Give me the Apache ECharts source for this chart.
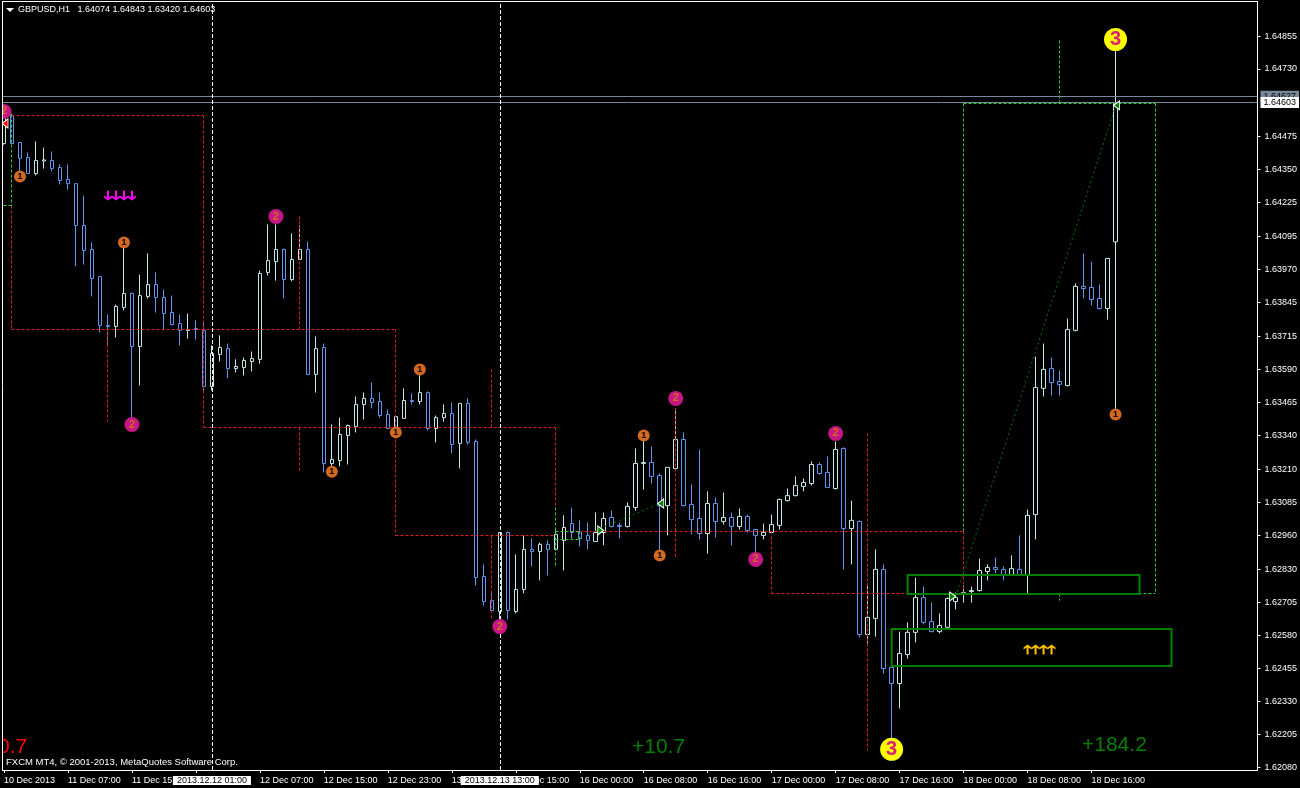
<!DOCTYPE html>
<html>
<head>
<meta charset="utf-8">
<title>GBPUSD,H1</title>
<script src="https://cdn.jsdelivr.net/npm/echarts@6/dist/echarts.min.js"></script>
<style>
html, body { margin: 0; padding: 0; background: #000; }
#main { width: 1300px; height: 788px; }
</style>
</head>
<body>
<div id="main"></div>
<script>
// H1 bars, left to right
const opens = [
  1.64447,1.64554,1.64451,1.64394,1.64333,1.64381,1.64383,1.64356,1.64311,1.64295,
  1.64136,1.64045,1.63943,1.63757,1.63753,1.63825,1.63878,1.63677,1.63867,1.63912,
  1.63863,1.63806,1.63764,1.63738,1.63745,1.63738,1.63525,1.63647,1.63669,1.63593,
  1.63597,1.63620,1.63628,1.63958,1.63999,1.64045,1.63931,1.64007,1.64045,1.63571,
  1.63673,1.63233,1.63244,1.63339,1.63373,1.63457,1.63480,1.63468,1.63419,1.63366,
  1.63404,1.63472,1.63468,1.63502,1.63366,1.63407,1.63423,1.63309,1.63461,1.63316,
  1.62804,1.62713,1.62671,1.62971,1.62671,1.62755,1.62907,1.62899,1.62926,1.62907,
  1.62941,1.63005,1.62975,1.62960,1.62937,1.62971,1.63028,1.62998,1.62994,1.63066,
  1.63233,1.63237,1.63187,1.63073,1.63214,1.63324,1.63077,1.63024,1.62967,1.63081,
  1.63013,1.63028,1.62994,1.63032,1.62982,1.62960,1.62971,1.62998,1.63092,1.63111,
  1.63146,1.63157,1.63229,1.63199,1.63138,1.63290,1.62986,1.63013,1.62584,1.62645,
  1.62831,1.62459,1.62398,1.62508,1.62592,1.62724,1.62633,1.62595,1.62611,1.62709,
  1.62736,1.62747,1.62751,1.62823,1.62838,1.62831,1.62808,1.62831,1.62808,1.63039,
  1.63518,1.63593,1.63544,1.63529,1.63738,1.63905,1.63901,1.63859,1.63821,1.64074
]
const closes = [
  1.64550,1.64447,1.64391,1.64333,1.64383,1.64385,1.64352,1.64307,1.64295,1.64136,
  1.64041,1.63935,1.63757,1.63753,1.63829,1.63878,1.63677,1.63870,1.63912,1.63863,
  1.63802,1.63760,1.63738,1.63741,1.63741,1.63525,1.63650,1.63673,1.63593,1.63601,
  1.63624,1.63631,1.63954,1.64003,1.64045,1.63931,1.64007,1.64045,1.63571,1.63669,
  1.63233,1.63248,1.63343,1.63377,1.63457,1.63480,1.63464,1.63415,1.63366,1.63411,
  1.63472,1.63468,1.63502,1.63366,1.63407,1.63423,1.63305,1.63461,1.63313,1.62800,
  1.62709,1.62675,1.62971,1.62675,1.62755,1.62907,1.62899,1.62926,1.62907,1.62964,
  1.62990,1.62971,1.62948,1.62941,1.62971,1.63024,1.62994,1.62994,1.63070,1.63233,
  1.63237,1.63184,1.63073,1.63218,1.63324,1.63073,1.63020,1.62967,1.63081,1.63013,
  1.63028,1.62994,1.63032,1.62979,1.62960,1.62971,1.63001,1.63096,1.63111,1.63149,
  1.63161,1.63229,1.63195,1.63142,1.63286,1.62986,1.63017,1.62584,1.62649,1.62831,
  1.62455,1.62398,1.62512,1.62592,1.62724,1.62630,1.62595,1.62618,1.62721,1.62724,
  1.62743,1.62751,1.62827,1.62838,1.62831,1.62808,1.62834,1.62808,1.63036,1.63521,
  1.63590,1.63540,1.63533,1.63741,1.63905,1.63897,1.63855,1.63821,1.64011,1.64603
]
const highs = [
  1.64565,1.64561,1.64451,1.64413,1.64455,1.64432,1.64417,1.64368,1.64368,1.64295,
  1.64250,1.64072,1.63943,1.63798,1.63836,1.64072,1.63882,1.63950,1.64030,1.63958,
  1.63893,1.63870,1.63798,1.63802,1.63776,1.63768,1.63681,1.63719,1.63688,1.63628,
  1.63635,1.63658,1.63965,1.64140,1.64140,1.64049,1.64106,1.64136,1.64075,1.63715,
  1.63688,1.63381,1.63407,1.63381,1.63487,1.63502,1.63540,1.63502,1.63438,1.63411,
  1.63518,1.63499,1.63590,1.63506,1.63415,1.63457,1.63464,1.63461,1.63480,1.63324,
  1.62850,1.62747,1.62971,1.62975,1.62888,1.62960,1.62948,1.62933,1.62941,1.62979,
  1.63036,1.63066,1.63017,1.63009,1.63047,1.63047,1.63054,1.63009,1.63085,1.63290,
  1.63320,1.63297,1.63195,1.63218,1.63442,1.63351,1.63153,1.63286,1.63127,1.63104,
  1.63123,1.63047,1.63062,1.63039,1.62982,1.63005,1.63039,1.63100,1.63138,1.63184,
  1.63176,1.63241,1.63237,1.63259,1.63316,1.63294,1.63092,1.63017,1.62778,1.62907,
  1.62850,1.62459,1.62595,1.62630,1.62800,1.62766,1.62705,1.62664,1.62724,1.62743,
  1.62770,1.62766,1.62872,1.62850,1.62876,1.62842,1.62884,1.62960,1.63058,1.63639,
  1.63688,1.63635,1.63586,1.63783,1.63916,1.64030,1.63999,1.63912,1.64011,1.64843
]
const lows = [
  1.64443,1.64447,1.64337,1.64333,1.64326,1.64352,1.64341,1.64292,1.64273,1.63981,
  1.63988,1.63867,1.63730,1.63681,1.63711,1.63814,1.63385,1.63529,1.63859,1.63806,
  1.63741,1.63757,1.63681,1.63707,1.63704,1.63510,1.63510,1.63620,1.63556,1.63578,
  1.63567,1.63582,1.63612,1.63946,1.63927,1.63859,1.63924,1.64007,1.63571,1.63502,
  1.63199,1.63206,1.63222,1.63229,1.63351,1.63400,1.63442,1.63407,1.63366,1.63339,
  1.63404,1.63457,1.63457,1.63358,1.63313,1.63392,1.63271,1.63214,1.63305,1.62770,
  1.62694,1.62667,1.62637,1.62641,1.62664,1.62740,1.62842,1.62789,1.62808,1.62903,
  1.62827,1.62948,1.62918,1.62907,1.62937,1.62922,1.62990,1.62948,1.62990,1.63054,
  1.63134,1.63157,1.62884,1.62960,1.63210,1.63070,1.62964,1.62945,1.62891,1.62952,
  1.63001,1.62922,1.62982,1.62971,1.62891,1.62945,1.62971,1.62982,1.63089,1.63108,
  1.63127,1.63149,1.63191,1.63142,1.63134,1.62831,1.62850,1.62573,1.62550,1.62576,
  1.62436,1.62189,1.62303,1.62493,1.62554,1.62622,1.62592,1.62588,1.62611,1.62679,
  1.62705,1.62705,1.62747,1.62789,1.62816,1.62789,1.62808,1.62808,1.62736,1.62945,
  1.63487,1.63491,1.63491,1.63525,1.63734,1.63859,1.63833,1.63817,1.63779,1.63420
]

// one label every 8 bars
const xTickLabels = [
  '10 Dec 2013', '11 Dec 07:00', '11 Dec 15:00', '11 Dec 23:00', '12 Dec 07:00', '12 Dec 15:00',
  '12 Dec 23:00', '13 Dec 07:00', '13 Dec 15:00', '16 Dec 00:00', '16 Dec 08:00', '16 Dec 16:00',
  '17 Dec 00:00', '17 Dec 08:00', '17 Dec 16:00', '18 Dec 00:00', '18 Dec 08:00', '18 Dec 16:00'
]
const yTickValues = [
  1.64855, 1.64730, 1.64475, 1.64350, 1.64225, 1.64095, 1.63970, 1.63845, 1.63715, 1.63590, 1.63465,
  1.63340, 1.63210, 1.63085, 1.62960, 1.62830, 1.62705, 1.62580, 1.62455, 1.62330, 1.62205, 1.62080
]
const askPrice = 1.64627
const bidPrice = 1.64603
const crosshairBars = [26, 62]
const crosshairLabels = ['2013.12.12 01:00', '2013.12.13 13:00']

// [bar, price, bar, price]
const redSegments = [
  [1, 1.64554, 25, 1.64554], [1, 1.64212, 1, 1.63741], [1, 1.63741, 49, 1.63741],
  [25, 1.64554, 25, 1.63370], [13, 1.63741, 13, 1.63392], [37, 1.64170, 37, 1.63741],
  [25, 1.63370, 69, 1.63370], [37, 1.63370, 37, 1.63199], [49, 1.63741, 49, 1.62960],
  [61, 1.63590, 61, 1.63370], [61, 1.62960, 61, 1.62637], [69, 1.63370, 69, 1.63066],
  [49, 1.62960, 69, 1.62960], [72, 1.62975, 120, 1.62975], [84, 1.63442, 84, 1.62872],
  [96, 1.62975, 96, 1.62740], [96, 1.62740, 120, 1.62740], [108, 1.63347, 108, 1.62144],
  [120, 1.62975, 120, 1.62740]
]
const limeSegments = [
  [0, 1.64557, 1, 1.64557], [1, 1.64557, 1, 1.64212], [0, 1.64212, 1, 1.64212],
  [69, 1.63066, 69, 1.62842], [69, 1.62975, 72, 1.62975], [69, 1.62945, 72, 1.62945], [72, 1.62975, 72, 1.62945],
  [120, 1.64599, 144, 1.64599], [120, 1.64599, 120, 1.62975], [144, 1.64599, 144, 1.62740],
  [120, 1.62740, 144, 1.62740], [132, 1.64838, 132, 1.64599], [132, 1.62740, 132, 1.62713]
]
const trendSegments = [
  [74, 1.62979, 82, 1.63081],
  [119, 1.62728, 139, 1.64588]
]
const greenBoxes = [
  [113, 1.62808, 142, 1.62736],
  [111, 1.62603, 146, 1.62463]
]

// [bar, price]
const level1Marks = [[2, 1.64322], [15, 1.64072], [41, 1.63202], [49, 1.63351], [52, 1.63590], [80, 1.63339], [82, 1.62884], [139, 1.63419]]
const level2Marks = [[0, 1.64569], [16, 1.63381], [34, 1.64170], [62, 1.62614], [84, 1.63480], [94, 1.62869], [104, 1.63347]]
const level3Marks = [[111, 1.62148], [139, 1.64842]]
const downArrows = [[13, 1.64250], [14, 1.64250], [15, 1.64250], [16, 1.64250]]
const upArrows = [[128, 1.62527], [129, 1.62527], [130, 1.62527], [131, 1.62527]]
const entryLeft = [[82, 1.63081], [139, 1.64592]]
const entryRight = [[75, 1.62979], [119, 1.62728]]
const exitMark = [[0, 1.64523]]

const headerText = 'GBPUSD,H1   1.64074 1.64843 1.63420 1.64603'
const copyrightText = 'FXCM MT4, © 2001-2013, MetaQuotes Software Corp.'

const BULL = '#c4e8e8'
const BEAR = '#6495ed'
const FONT = '"Liberation Sans", Arial, sans-serif'

// 157 slots fill the window up to the price axis, only 140 hold bars
const categories = []
for (let i = 0; i < 157; i++) {
  categories.push(i % 8 === 0 && i / 8 < xTickLabels.length ? xTickLabels[i / 8] : '')
}

const candles = opens.map((o, i) => [o, closes[i], lows[i], highs[i]])

const snap = (v) => Math.floor(v) + 0.5

const segmentSeries = (data, color, lineDash, straight) => ({
  type: 'custom',
  data: data,
  encode: { x: [0, 2], y: [1, 3] },
  z: 3,
  silent: true,
  clip: false,
  renderItem: (params, api) => {
    const a = api.coord([api.value(0), api.value(1)])
    const b = api.coord([api.value(2), api.value(3)])
    return {
      type: 'line',
      shape: straight
        ? { x1: snap(a[0]), y1: snap(a[1]), x2: snap(b[0]), y2: snap(b[1]) }
        : { x1: a[0], y1: a[1], x2: b[0], y2: b[1] },
      style: { stroke: color, lineWidth: 1, lineDash: lineDash, fill: null },
    }
  },
})

const boxSeries = {
  type: 'custom',
  data: greenBoxes,
  encode: { x: [0, 2], y: [1, 3] },
  z: 3,
  silent: true,
  renderItem: (params, api) => {
    const a = api.coord([api.value(0), api.value(1)])
    const b = api.coord([api.value(2), api.value(3)])
    return {
      type: 'rect',
      shape: { x: a[0], y: Math.round(a[1]), width: b[0] - a[0], height: Math.round(b[1] - a[1]) },
      style: { stroke: '#008000', lineWidth: 2, fill: null },
    }
  },
}

// last 2px of the ask and bid lines, between the grid edge and the price axis
const priceLineEnds = {
  type: 'custom',
  data: [[askPrice], [bidPrice]],
  encode: { y: 0 },
  z: 3,
  silent: true,
  clip: false,
  renderItem: (params, api) => {
    const y = snap(api.coord([0, api.value(0)])[1])
    const right = params.coordSys.x + params.coordSys.width
    return {
      type: 'line',
      shape: { x1: right, y1: y, x2: right + 2, y2: y },
      style: { stroke: '#778899', lineWidth: 1 },
    }
  },
}

const circleSeries = (data, size, fill, textColor, text, fontSize) => ({
  type: 'scatter',
  data: data,
  symbol: 'circle',
  symbolSize: size,
  z: 5,
  silent: true,
  itemStyle: { color: fill, opacity: 1 },
  label: {
    show: true,
    position: 'inside',
    formatter: text,
    color: textColor,
    fontSize: fontSize,
    fontWeight: 'bold',
    fontFamily: FONT,
  },
})

const arrowSeries = (data, path, color) => ({
  type: 'scatter',
  data: data,
  symbol: path,
  symbolSize: [8, 10],
  z: 4,
  silent: true,
  itemStyle: { color: color, opacity: 1 },
})

const entrySeries = (data, rotate, fill, offset) => ({
  type: 'scatter',
  data: data,
  symbol: 'triangle',
  symbolSize: [9, 6],
  symbolRotate: rotate,
  symbolOffset: offset,
  z: 6,
  silent: true,
  itemStyle: { color: fill, borderColor: '#fff', borderWidth: 1, opacity: 1 },
})

const chart = echarts.init(document.getElementById('main'), null, { renderer: 'canvas' })

chart.setOption({
  animation: false,
  backgroundColor: '#000',
  textStyle: { fontFamily: FONT },
  grid: { left: -0.5, top: 2, width: 1256, height: 768 },
  xAxis: {
    type: 'category',
    data: categories,
    axisLine: { show: true, onZero: false, lineStyle: { color: '#fff', width: 1 } },
    axisTick: {
      show: true,
      alignWithLabel: true,
      length: 3,
      lineStyle: { color: '#fff' },
      interval: (i) => i % 8 === 0 && i < 140,
    },
    axisLabel: {
      show: true,
      interval: (i) => i % 8 === 0 && i < 140,
      color: '#fff',
      fontSize: 9,
      fontFamily: FONT,
      align: 'left',
      margin: 6,
    },
    splitLine: { show: false },
  },
  yAxis: {
    type: 'value',
    position: 'right',
    offset: 2,
    min: 1.620697,
    max: 1.649843,
    scale: true,
    axisLine: { show: true, lineStyle: { color: '#fff', width: 1 } },
    axisTick: { show: true, length: 3, lineStyle: { color: '#fff' }, customValues: yTickValues },
    axisLabel: {
      show: true,
      color: '#fff',
      fontSize: 9,
      fontFamily: FONT,
      margin: 7,
      customValues: yTickValues,
      formatter: (v) => v.toFixed(5),
    },
    splitLine: { show: false },
  },
  graphic: [
    { type: 'rect', z: 100, shape: { x: 0, y: 0, width: 2, height: 788 }, style: { fill: '#000' } },
    { type: 'line', z: 101, shape: { x1: 2.5, y1: 1, x2: 2.5, y2: 770 }, style: { stroke: '#fff', lineWidth: 1 } },
    { type: 'line', z: 101, shape: { x1: 2, y1: 1.5, x2: 1258, y2: 1.5 }, style: { stroke: '#fff', lineWidth: 1 } },
    { type: 'line', z: 101, shape: { x1: 2, y1: 770.5, x2: 1258, y2: 770.5 }, style: { stroke: '#fff', lineWidth: 1 } },
    { type: 'polygon', z: 102, shape: { points: [[6, 8], [14, 8], [10, 12]] }, style: { fill: '#fff' } },
    { type: 'text', z: 102, x: 18, y: 5, style: { text: headerText, fill: '#fff', font: '9px ' + FONT } },
    { type: 'text', z: 102, x: 6, y: 757, style: { text: copyrightText, fill: '#fff', font: '9.5px ' + FONT } },
    { type: 'text', z: 99, x: -2, y: 737, style: { text: '0.7', fill: '#ff0000', font: '21px ' + FONT } },
    { type: 'text', z: 102, x: 632, y: 737, style: { text: '+10.7', fill: '#008000', font: '21px ' + FONT } },
    { type: 'text', z: 102, x: 1082, y: 735, style: { text: '+184.2', fill: '#008000', font: '21px ' + FONT } },
  ],
  series: [
    {
      type: 'candlestick',
      data: candles,
      barWidth: 4,
      z: 2,
      silent: true,
      itemStyle: { color: '#000', color0: '#000', borderColor: BULL, borderColor0: BEAR, borderWidth: 1 },
      markLine: {
        silent: true,
        symbol: 'none',
        animation: false,
        precision: 6,
        data: [
          {
            yAxis: askPrice,
            lineStyle: { color: '#778899', type: 'solid', width: 1 },
            label: {
              position: 'end', distance: 5, formatter: askPrice.toFixed(5), color: '#000', fontSize: 9,
              backgroundColor: '#778899', padding: [1, 3], fontFamily: FONT,
            },
          },
          {
            yAxis: bidPrice,
            lineStyle: { color: '#778899', type: 'solid', width: 1 },
            label: {
              position: 'end', distance: 5, formatter: bidPrice.toFixed(5), color: '#000', fontSize: 9,
              backgroundColor: '#fff', padding: [1, 3], fontFamily: FONT,
            },
          },
          ...crosshairBars.map((bar, i) => ({
            xAxis: bar,
            lineStyle: { color: '#fff', type: [4, 2], width: 1 },
            label: {
              position: 'start', distance: 6, formatter: crosshairLabels[i], color: '#000', fontSize: 9,
              backgroundColor: '#fff', padding: [0, 4], fontFamily: FONT,
            },
          })),
        ],
      },
    },
    priceLineEnds,
    segmentSeries(redSegments, '#dc1e1e', [3, 2], true),
    segmentSeries(limeSegments, '#32cd32', [3, 2], true),
    segmentSeries(trendSegments, '#007000', [2, 3], false),
    boxSeries,
    circleSeries(level1Marks, 12, '#d2691e', '#000', '1', 9),
    circleSeries(level2Marks, 15, '#c71585', '#d2691e', '2', 11),
    circleSeries(level3Marks, 23, '#ffff00', '#dc1e78', '3', 20),
    arrowSeries(downArrows, 'path://M3 0 H5 V7 L8 5 V7 L4 10 L0 7 V5 L3 7 Z', '#ff00ff'),
    arrowSeries(upArrows, 'path://M3 10 H5 V3 L8 5 V3 L4 0 L0 3 V5 L3 3 Z', '#ffc000'),
    entrySeries(entryLeft, 90, '#008000', [1, 0]),
    entrySeries(entryRight, -90, '#008000', [-3, 0]),
    entrySeries(exitMark, 90, '#ff0000', [1, 0]),
  ],
})
</script>
</body>
</html>
